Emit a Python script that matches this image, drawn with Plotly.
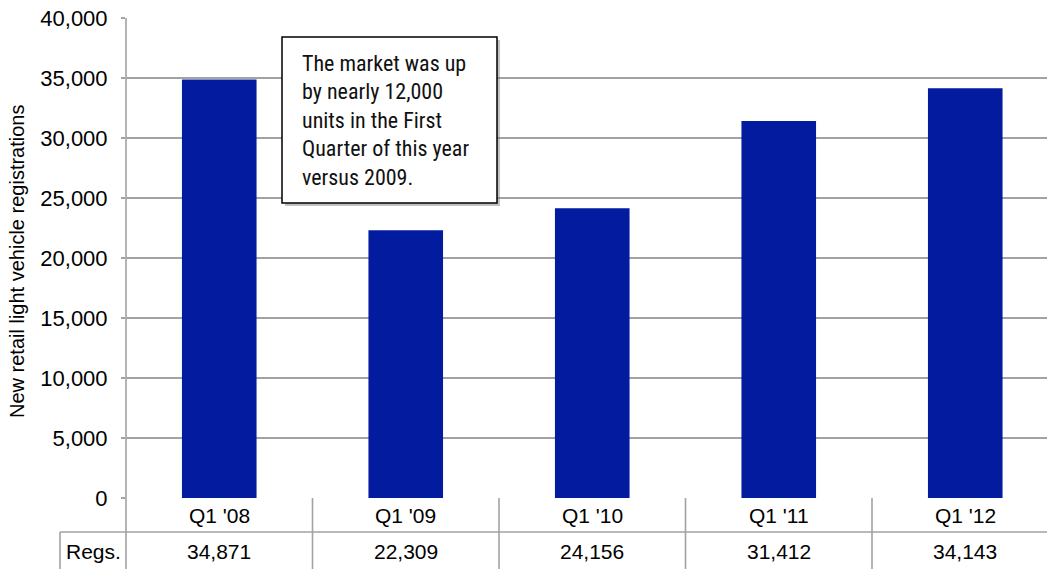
import plotly.graph_objects as go

# Quarterly new retail light vehicle registrations
quarters = ["Q1 '08", "Q1 '09", "Q1 '10", "Q1 '11", "Q1 '12"]
registrations = [34871, 22309, 24156, 31412, 34143]
y_ticks = [0, 5000, 10000, 15000, 20000, 25000, 30000, 35000, 40000]
row_label = "Regs."
axis_title = "New retail light vehicle registrations"
note_lines = [
    "The market was up",
    "by nearly 12,000",
    "units in the First",
    "Quarter of this year",
    "versus 2009.",
]

BAR = "#021B9F"
GRID = "#A2A2A2"
NARROW = "Roboto Condensed, DejaVu Sans Condensed, sans-serif"
ARIAL = "Liberation Sans, Arial, sans-serif"

W, H = 1047, 569
L, T, B = 126, 18, 71
plot_w, plot_h = W - L, H - T - B

def px_x(p):
    return (p - L) / plot_w

def px_y(p):
    return (H - B - p) / plot_h

fig = go.Figure(
    go.Bar(
        x=quarters,
        y=registrations,
        marker=dict(color=BAR, line=dict(width=0)),
        width=0.4,
        hoverinfo="skip",
    )
)

shapes = []
# y axis line, running down through the data table
shapes.append(dict(type="line", xref="paper", yref="paper", x0=0, x1=0,
                   y0=1, y1=px_y(H + 5), line=dict(color=GRID, width=1.6)))
# table row separator
shapes.append(dict(type="line", xref="paper", yref="paper", x0=px_x(60), x1=1,
                   y0=px_y(532), y1=px_y(532), line=dict(color=GRID, width=1.6)))
# left edge of the "Regs." cell
shapes.append(dict(type="line", xref="paper", yref="paper", x0=px_x(60), x1=px_x(60),
                   y0=px_y(532), y1=px_y(H + 5), line=dict(color=GRID, width=1.6)))
# column dividers between quarters
for i in range(len(quarters)):
    shapes.append(dict(type="line", xref="x", yref="paper", x0=i + 0.5, x1=i + 0.5,
                       y0=0, y1=px_y(H + 5), line=dict(color=GRID, width=1.6)))

# callout box with a soft drop shadow
bx0, bx1, by0, by1 = px_x(282), px_x(497), px_y(203), px_y(37)
dx, dy = 3 / plot_w, 3 / plot_h
shapes.append(dict(type="rect", xref="paper", yref="paper",
                   x0=bx0 + dx, x1=bx1 + dx, y0=by0 - dy, y1=by1 - dy,
                   fillcolor="rgba(120,120,120,0.45)", line=dict(width=0), layer="above"))
shapes.append(dict(type="rect", xref="paper", yref="paper",
                   x0=bx0, x1=bx1, y0=by0, y1=by1,
                   fillcolor="white", line=dict(color="black", width=1.5), layer="above"))

annotations = []
for k, line in enumerate(note_lines):
    annotations.append(dict(text=line, xref="paper", yref="paper", x=px_x(300),
                            y=px_y(63 + 28.5 * k), xanchor="left", yanchor="middle",
                            showarrow=False, font=dict(family=NARROW, size=22, color="#111111")))

for q, v in zip(quarters, registrations):
    annotations.append(dict(text=q, xref="x", yref="paper", x=q, y=px_y(515),
                            xanchor="center", yanchor="middle", showarrow=False,
                            font=dict(family=ARIAL, size=21, color="black")))
    annotations.append(dict(text=f"{v:,}", xref="x", yref="paper", x=q, y=px_y(551),
                            xanchor="center", yanchor="middle", showarrow=False,
                            font=dict(family=ARIAL, size=21, color="black")))

annotations.append(dict(text=row_label, xref="paper", yref="paper", x=px_x(93), y=px_y(551),
                        xanchor="center", yanchor="middle", showarrow=False,
                        font=dict(family=ARIAL, size=21, color="black")))
annotations.append(dict(text=axis_title, xref="paper", yref="paper", x=px_x(17), y=px_y(262),
                        xanchor="center", yanchor="middle", textangle=-90, showarrow=False,
                        font=dict(family=ARIAL, size=20, color="black")))

fig.update_layout(
    width=W,
    height=H,
    margin=dict(l=L, r=0, t=T, b=B, pad=0),
    paper_bgcolor="white",
    plot_bgcolor="white",
    showlegend=False,
    shapes=shapes,
    annotations=annotations,
    xaxis=dict(
        type="category",
        range=[-0.5, -0.5 + plot_w / 186.5],
        showticklabels=False,
        showgrid=False,
        zeroline=False,
        showline=False,
        ticks="",
        fixedrange=True,
    ),
    yaxis=dict(
        range=[0, 40000],
        tickvals=y_ticks,
        tickformat=",",
        showgrid=True,
        gridcolor=GRID,
        gridwidth=1.6,
        zeroline=False,
        showline=False,
        ticks="outside",
        ticklen=4,
        tickwidth=1.6,
        tickcolor=GRID,
        ticklabelstandoff=9,
        tickfont=dict(family=ARIAL, size=22, color="black"),
        fixedrange=True,
    ),
)

fig.write_html("out.html", config={"displayModeBar": False})
